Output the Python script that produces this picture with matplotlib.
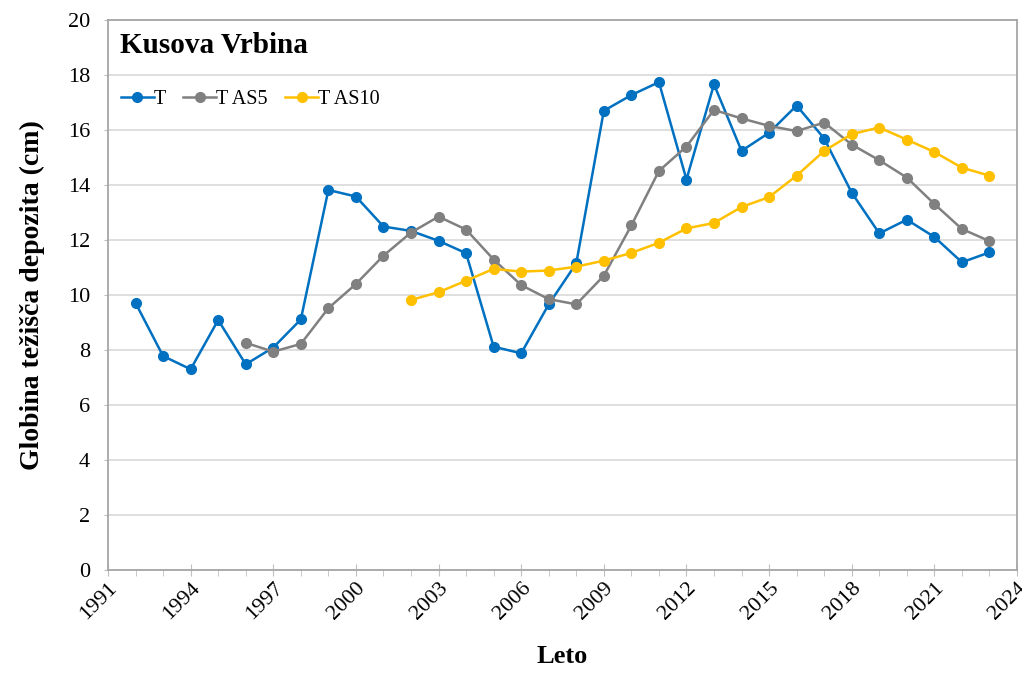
import matplotlib.pyplot as plt
import numpy as np

plt.rcParams['font.family'] = ['Liberation Serif', 'DejaVu Serif']

# globina tezisca depozita po letih
leta_T = list(range(1992, 2024))
T = [9.71, 7.78, 7.30, 9.09, 7.48, 8.09, 9.11, 13.82, 13.58, 12.49,
     12.33, 11.97, 11.52, 8.12, 7.88, 9.66, 11.15, 16.70, 17.27, 17.74,
     14.20, 17.66, 15.24, 15.90, 16.89, 15.69, 13.72, 12.24, 12.74, 12.11,
     11.19, 11.55]

leta_AS5 = list(range(1996, 2024))
T_AS5 = [8.26, 7.94, 8.22, 9.52, 10.40, 11.43, 12.27, 12.85, 12.38, 11.29,
         10.36, 9.85, 9.66, 10.70, 12.53, 14.51, 15.40, 16.73, 16.42, 16.15,
         15.96, 16.27, 15.47, 14.90, 14.27, 13.31, 12.40, 11.96]

leta_AS10 = list(range(2002, 2024))
T_AS10 = [9.82, 10.10, 10.52, 10.95, 10.85, 10.89, 11.03, 11.25, 11.53, 11.90,
          12.42, 12.62, 13.20, 13.56, 14.34, 15.24, 15.85, 16.09, 15.65, 15.20,
          14.63, 14.34]

fig = plt.figure(figsize=(10.22, 6.75), dpi=100)
ax = fig.add_axes([108/1022, 105/675, 909/1022, 550/675])

ax.plot(leta_T, T, color='#0070C0', lw=1.8, marker='o', ms=7, label='T')
ax.plot(leta_AS5, T_AS5, color='#808080', lw=1.8, marker='o', ms=7, label='T AS5')
ax.plot(leta_AS10, T_AS10, color='#FFC000', lw=1.8, marker='o', ms=7, label='T AS10')

ax.set_xlim(1991, 2024)
ax.set_ylim(0, 20)
ax.set_xticks(np.arange(1991, 2025, 3))
ax.set_xticks(np.arange(1991, 2025, 1), minor=True)
ax.set_yticks(np.arange(0, 21, 2))
ax.grid(axis='y', color='#D9D9D9', lw=1.2)
ax.set_axisbelow(True)

for s in ax.spines.values():
    s.set_color('#A6A6A6')
    s.set_linewidth(1.3)

ax.tick_params(axis='x', which='major', direction='inout', length=8, color='#BFBFBF',
               labelsize=16, pad=2)
ax.tick_params(axis='x', which='minor', direction='out', length=4, color='#BFBFBF')
ax.tick_params(axis='y', direction='out', length=3, color='#BFBFBF', labelsize=16, pad=10)
plt.setp(ax.get_xticklabels(), rotation=45, ha='right', rotation_mode='anchor')

ax.set_xlabel('Leto', fontsize=19, fontweight='bold', labelpad=16)
ax.set_ylabel('Globina težišča depozita (cm)', fontsize=20, fontweight='bold', labelpad=16)

ax.text(0.013, 0.978, 'Kusova Vrbina', transform=ax.transAxes, fontsize=21,
        fontweight='bold', va='top', ha='left')

ax.legend(loc='center left', bbox_to_anchor=(-0.006, 0.855), ncol=3, frameon=False,
          fontsize=14.5, handlelength=1.65, handletextpad=0.0, columnspacing=0.85)

plt.savefig('out.png', dpi=100)
